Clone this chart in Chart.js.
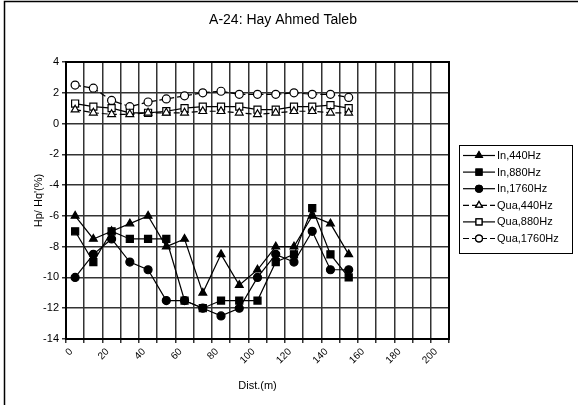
<!DOCTYPE html>
<html>
<head>
<meta charset="utf-8">
<script src="https://cdn.jsdelivr.net/npm/chart.js@4/dist/chart.umd.min.js"></script>
<style>
  html, body { margin: 0; padding: 0; background: #fff; }
  #wrap { width: 578px; height: 405px; }
</style>
</head>
<body>
<div id="wrap"><canvas id="myChart" width="578" height="405"></canvas></div>
<script>
// distance categories (m), labelled every 20
var dist = ["0","10","20","30","40","50","60","70","80","90","100","110","120","130","140","150","160","170","180","190","200"];

var in440  = [-6, -7.5, -7, -6.5, -6, -8, -7.5, -11, -8.5, -10.5, -9.5, -8, -8, -6, -6.5, -8.5];
var in880  = [-7, -9, -7, -7.5, -7.5, -7.5, -11.5, -12, -11.5, -11.5, -11.5, -9, -8.5, -5.5, -8.5, -10];
var in1760 = [-10, -8.5, -7.5, -9, -9.5, -11.5, -11.5, -12, -12.5, -12, -10, -8.5, -9, -7, -9.5, -9.5];
var qua440  = [0.9, 0.7, 0.6, 0.6, 0.7, 0.7, 0.7, 0.8, 0.8, 0.7, 0.6, 0.7, 0.8, 0.8, 0.7, 0.7];
var qua880  = [1.3, 1.1, 1.0, 0.7, 0.7, 0.8, 1.0, 1.1, 1.1, 1.1, 0.9, 0.9, 1.1, 1.1, 1.2, 1.0];
var qua1760 = [2.5, 2.3, 1.5, 1.1, 1.4, 1.6, 1.8, 2.0, 2.1, 1.9, 1.9, 1.9, 2.0, 1.9, 1.9, 1.7];

var FONT = "'Liberation Sans', Arial, sans-serif";

function series(label, data, style, filled, dash) {
  return {
    label: label,
    data: data,
    borderColor: '#000',
    borderWidth: 1.2,
    borderDash: dash ? [6, 3] : [],
    pointStyle: style,
    pointRadius: style === 'rect' ? 5 : (style === 'triangle' ? 4.5 : 4),
    pointBackgroundColor: filled ? '#000' : '#fff',
    pointBorderColor: '#000',
    pointBorderWidth: 1.2,
    tension: 0,
    fill: false
  };
}

// frame, title, plot border and the boxed legend on the right
var decor = {
  id: 'decor',
  afterDraw: function (chart) {
    var c = chart.ctx, a = chart.chartArea;
    c.save();
    c.strokeStyle = '#000';
    c.lineWidth = 1.5;
    c.beginPath();
    c.moveTo(4.5, 405); c.lineTo(4.5, 1.5); c.lineTo(578, 1.5);
    c.stroke();

    c.lineWidth = 2;
    c.strokeRect(a.left, a.top, a.right - a.left, a.bottom - a.top);

    c.fillStyle = '#000';
    c.font = '14px ' + FONT;
    c.textAlign = 'center';
    c.textBaseline = 'middle';
    c.fillText('A-24: Hay Ahmed Taleb', 283, 20);

    // legend
    var lx = 459, ly = 145, lw = 113, lh = 108;
    c.lineWidth = 1;
    c.fillStyle = '#fff';
    c.fillRect(lx, ly, lw, lh);
    c.strokeRect(lx + 0.5, ly + 0.5, lw, lh);
    c.font = '11px ' + FONT;
    c.textAlign = 'left';
    chart.data.datasets.forEach(function (ds, i) {
      var y = ly + 10.5 + i * 16.6;
      c.strokeStyle = '#000';
      c.lineWidth = 1.2;
      c.setLineDash(ds.borderDash);
      c.beginPath(); c.moveTo(lx + 4, y); c.lineTo(lx + 36, y); c.stroke();
      c.setLineDash([]);
      c.fillStyle = ds.pointBackgroundColor;
      Chart.helpers.drawPoint(c, {
        pointStyle: ds.pointStyle, radius: ds.pointRadius * 0.85, rotation: 0, borderWidth: 1
      }, lx + 20, y);
      c.fill();
      c.stroke();
      c.fillStyle = '#000';
      c.fillText(ds.label, lx + 38, y + 0.5);
    });
    c.restore();
  }
};

new Chart(document.getElementById('myChart'), {
  type: 'line',
  data: {
    labels: dist,
    datasets: [
      series('In,440Hz', in440, 'triangle', true, false),
      series('In,880Hz', in880, 'rect', true, false),
      series('In,1760Hz', in1760, 'circle', true, false),
      series('Qua,440Hz', qua440, 'triangle', false, true),
      series('Qua,880Hz', qua880, 'rect', false, false),
      series('Qua,1760Hz', qua1760, 'circle', false, true)
    ]
  },
  options: {
    responsive: false,
    animation: false,
    layout: { padding: { left: 28, right: 129, top: 62, bottom: 8 } },
    plugins: {
      legend: { display: false },
      title: { display: false },
      tooltip: { enabled: false }
    },
    scales: {
      x: {
        type: 'category',
        offset: true,
        grid: { offset: true, color: '#333', lineWidth: 1.5, tickLength: 4 },
        border: { color: '#000', width: 2 },
        ticks: {
          autoSkip: false,
          maxRotation: 45,
          minRotation: 45,
          labelOffset: -4,
          color: '#000',
          font: { family: FONT, size: 10 },
          callback: function (v, i) { return i % 2 === 0 ? this.getLabelForValue(v) : ''; }
        },
        title: { display: true, text: 'Dist.(m)', color: '#000', font: { family: FONT, size: 11 } },
        afterFit: function (s) { s.height = 58; }
      },
      y: {
        min: -14,
        max: 4,
        grid: { color: '#333', lineWidth: 1.5, tickLength: 4 },
        border: { color: '#000', width: 2 },
        ticks: { stepSize: 2, color: '#000', font: { family: FONT, size: 11 } },
        title: { display: true, text: "Hp/ Hq'(%)", color: '#000', font: { family: FONT, size: 11 } },
        afterFit: function (s) { s.width = 38; }
      }
    }
  },
  plugins: [decor]
});
</script>
</body>
</html>
